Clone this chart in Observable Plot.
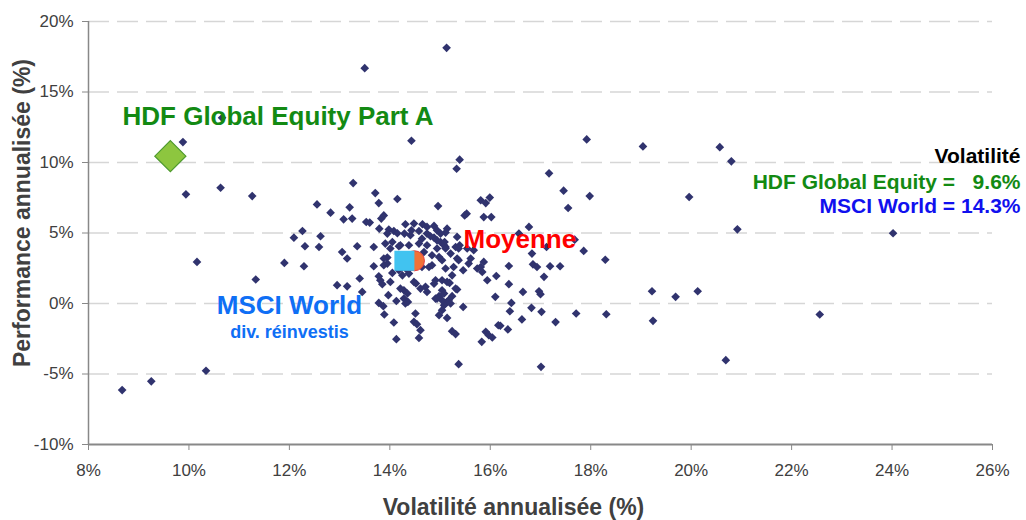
<!DOCTYPE html>
<html><head><meta charset="utf-8">
<script src="https://cdn.jsdelivr.net/npm/d3@7"></script>
<script src="https://cdn.jsdelivr.net/npm/@observablehq/plot@0.6"></script>
<style>body{margin:0;background:#fff} #chart svg{display:block}</style>
</head><body><div id="chart"></div>
<script>
// Volatilité annualisée (%) of each fund
const fundVol = [
15.13,13.50,14.43,9.88,15.39,15.33,9.94,10.63,11.26,13.27,13.71,13.78,14.15,12.55,12.82,13.20,13.08,13.25,13.53,13.60,
13.88,13.83,13.79,13.98,14.08,13.95,14.96,14.31,14.48,14.65,14.74,14.43,14.29,14.64,14.88,14.94,15.14,15.11,14.88,15.01,
15.11,12.09,12.26,12.62,12.31,12.59,13.35,13.68,14.01,14.18,15.31,15.39,15.53,15.49,15.81,15.99,15.91,15.87,16.02,10.16,
17.92,19.04,20.57,20.80,17.17,17.46,17.98,19.96,17.55,20.92,24.02,16.77,16.57,17.12,16.83,17.68,17.86,18.29,16.37,16.85,
16.93,17.19,17.39,17.07,16.37,16.65,16.97,17.00,19.22,19.69,20.13,16.42,16.39,16.82,17.02,17.71,18.31,22.56,16.63,17.30,
19.24,16.35,16.20,17.01,20.69,8.67,9.25,10.34,11.33,11.90,12.29,12.95,13.15,13.40,13.45,13.68,13.78,13.85,13.81,14.01,
14.05,13.78,13.87,13.97,13.89,14.08,14.13,14.13,14.25,14.38,14.28,14.35,14.28,14.31,14.36,14.48,14.52,14.51,14.48,14.54,
14.61,14.58,14.61,14.71,14.74,14.64,14.78,14.84,14.91,14.91,14.98,15.04,15.08,15.04,15.14,15.17,15.11,14.98,15.04,15.14,
15.24,15.31,15.37,15.46,15.34,15.24,15.24,15.27,15.46,15.37,15.57,15.81,15.84,15.94,16.12,16.10,15.83,15.91,15.97,16.04,
16.16,13.05,13.15,14.58,14.81,14.94,15.09,14.41,14.21,14.38,14.68,14.94,15.04,13.95,13.88,15.11,14.35,14.18,15.08,15.11,
15.37,15.21,15.61,15.87,15.74,15.19,15.14,15.08,15.21,14.21,14.88,10.66,14.15,14.74,15.01,15.34,15.54,15.67,13.91,14.05,
14.58,14.74,14.84,14.98,15.34,13.88,13.95,15.31,14.94,15.04
];
// Performance annualisée (%) of each fund
const fundPerf = [
18.13,16.69,11.54,11.45,10.20,9.56,7.74,8.21,7.62,8.54,7.83,7.12,7.41,7.03,6.44,6.82,5.97,6.02,5.78,5.74,
6.25,6.02,5.31,5.24,5.14,4.96,6.91,5.62,5.67,5.62,5.43,5.19,4.96,4.60,5.50,5.19,5.31,5.03,4.67,4.36,
4.01,4.67,5.14,4.77,4.06,4.01,4.06,4.01,3.90,4.06,4.01,4.13,6.37,6.25,7.32,7.51,7.12,6.13,6.13,2.95,
11.64,11.14,11.09,10.08,9.23,8.00,7.62,7.55,6.77,5.26,4.98,5.43,4.96,4.01,3.54,4.53,3.73,3.10,2.66,2.78,
2.59,2.64,2.64,1.89,1.37,0.82,0.87,0.66,0.87,0.47,0.87,0.04,-0.55,-0.31,-0.59,-0.71,-0.76,-0.78,-1.13,-1.32,
-1.23,-1.84,-1.58,-4.49,-4.02,-6.14,-5.52,-4.77,1.70,2.88,2.64,1.30,1.22,1.77,0.82,2.64,1.93,1.37,1.65,1.53,
2.17,0.04,-0.19,0.59,-0.78,-1.35,-2.53,0.18,2.00,2.12,0.94,0.71,0.35,0.00,0.11,1.53,1.42,-0.71,-1.30,-1.47,
-1.89,-2.44,1.06,1.18,0.82,2.59,2.59,2.71,1.65,0.35,0.52,0.94,0.71,1.65,1.53,0.23,0.00,-0.83,-0.47,-1.02,
-1.96,-2.17,-4.30,-0.24,0.99,0.52,2.00,2.59,2.36,3.07,2.83,2.59,2.24,1.65,1.95,0.47,-2.72,-2.01,-2.25,-2.41,
-1.54,3.65,3.19,5.14,4.77,4.48,4.36,4.84,4.13,4.13,3.65,3.90,3.07,3.26,2.71,2.48,2.36,2.36,4.13,3.90,
3.90,3.54,3.19,2.95,2.48,1.46,0.11,-0.12,0.00,1.06,1.40,13.17,4.98,4.96,4.96,4.72,3.90,3.78,4.25,4.36,
4.25,4.13,3.42,3.30,3.19,3.19,2.83,1.06,0.35,0.23
];
const xTicks = [8, 10, 12, 14, 16, 18, 20, 22, 24, 26];
const yTicks = [-10, -5, 0, 5, 10, 15, 20];
const gridValues = [-5, 0, 5, 10, 15, 20];
const hdfPoint = [{vol: 9.63, perf: 10.45}];
const msciPoint = [{vol: 14.29, perf: 3.03}];
const avgPoint = [{vol: 14.49, perf: 3.03}];

const funds = fundVol.map((v, i) => ({vol: v, perf: fundPerf[i]}));
const font = "'Liberation Sans', Arial, Helvetica, sans-serif";
const txt = (s, o) => Plot.text([s], {text: d => d, fontWeight: "bold", ...o});

const chart = Plot.plot({
  width: 1026, height: 520,
  marginLeft: 88, marginRight: 34, marginTop: 21, marginBottom: 76,
  style: {fontFamily: font, background: "#fff", overflow: "visible"},
  x: {domain: [8, 26]},
  y: {domain: [-10, 20]},
  marks: [
    Plot.ruleY(gridValues, {stroke: "#d6d6d6", strokeWidth: 1.5, strokeDasharray: "21,8"}),
    Plot.axisX({ticks: xTicks, tickFormat: d => d + "%", tickSize: 6, tickPadding: 13, fontSize: 17, stroke: "#888", fill: "#404040", label: null}),
    Plot.axisY({ticks: yTicks, tickFormat: d => d + "%", tickSize: 6, tickPadding: 9, fontSize: 17, stroke: "#888", fill: "#404040", label: null}),
    Plot.ruleX([8], {stroke: "#888", strokeWidth: 1.5}),
    Plot.ruleY([-10], {stroke: "#888", strokeWidth: 2}),
    Plot.dot(funds, {x: "vol", y: "perf", symbol: "diamond2", r: 3.9, fill: "#30336e", stroke: null}),
    Plot.dot(avgPoint, {x: "vol", y: "perf", r: 10, fill: "#f07238", stroke: "#e63b3b", strokeWidth: 1}),
    Plot.dot(msciPoint, {x: "vol", y: "perf", symbol: "square", r: 11.3, fill: "#41c3f0", stroke: null}),
    Plot.dot(hdfPoint, {x: "vol", y: "perf", symbol: "diamond2", r: 14, fill: "#8dc63f", stroke: "#4e9a2e", strokeWidth: 1.2}),
    txt("HDF Global Equity Part A", {frameAnchor: "top-left", dx: 34, dy: 103, textAnchor: "start", lineAnchor: "bottom", fontSize: 26, fill: "#138a13"}),
    txt("Moyenne", {frameAnchor: "top-left", dx: 375, dy: 226, textAnchor: "start", lineAnchor: "bottom", fontSize: 26, fill: "#ff0000"}),
    txt("MSCI World", {frameAnchor: "top-left", dx: 201, dy: 292, textAnchor: "middle", lineAnchor: "bottom", fontSize: 26, fill: "#0f6ff5"}),
    txt("div. réinvestis", {frameAnchor: "top-left", dx: 201, dy: 316, textAnchor: "middle", lineAnchor: "bottom", fontSize: 18, fill: "#0f6ff5"}),
    txt("Volatilité", {frameAnchor: "top-right", dx: 28, dy: 141, textAnchor: "end", lineAnchor: "bottom", fontSize: 21, fill: "#000"}),
    txt("HDF Global Equity =\u00a0\u00a0\u00a09.6%", {frameAnchor: "top-right", dx: 28, dy: 167, textAnchor: "end", lineAnchor: "bottom", fontSize: 21, fill: "#138a13"}),
    txt("MSCI World = 14.3%", {frameAnchor: "top-right", dx: 28, dy: 191, textAnchor: "end", lineAnchor: "bottom", fontSize: 21, fill: "#1010ee"}),
    txt("Volatilité annualisée (%)", {frameAnchor: "bottom", dx: -27, dy: 70, textAnchor: "middle", lineAnchor: "bottom", fontSize: 23, fill: "#404040"}),
    txt("Performance annualisée (%)", {frameAnchor: "left", rotate: -90, dx: -65.5, dy: -20, textAnchor: "middle", lineAnchor: "middle", fontSize: 23, fill: "#404040"})
  ]
});
document.getElementById("chart").appendChild(chart);
</script>
</body></html>
